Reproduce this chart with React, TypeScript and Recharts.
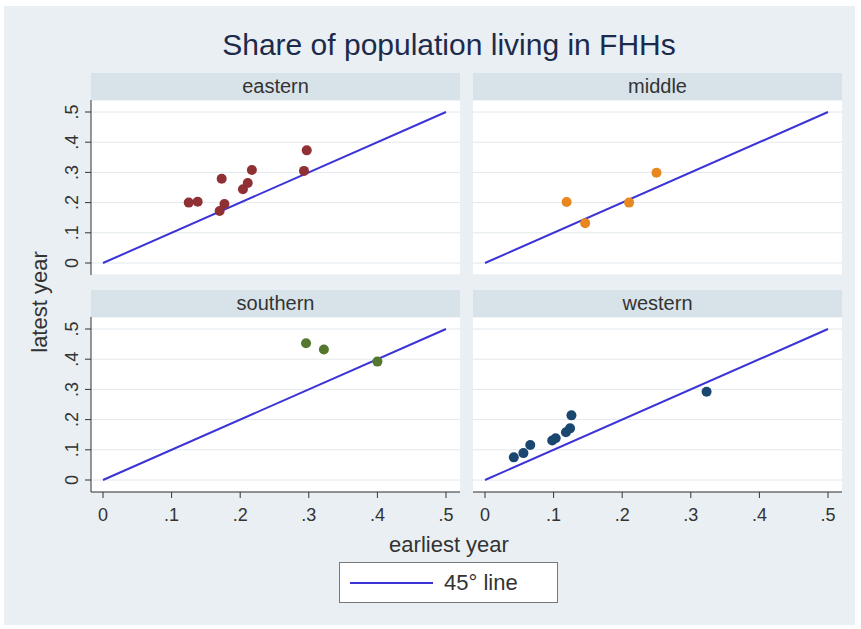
import { CartesianGrid, Scatter, ScatterChart, XAxis, YAxis } from "recharts"

// earliest year (x) / latest year (y) share of population in FHHs
const easternEarliest = [0.125, 0.138, 0.173, 0.177, 0.17, 0.204, 0.211, 0.217, 0.293, 0.297]
const easternLatest = [0.2, 0.203, 0.279, 0.195, 0.172, 0.244, 0.265, 0.308, 0.305, 0.373]

const middleEarliest = [0.119, 0.146, 0.21, 0.25]
const middleLatest = [0.202, 0.132, 0.2, 0.299]

const southernEarliest = [0.296, 0.322, 0.4]
const southernLatest = [0.453, 0.432, 0.392]

const westernEarliest = [0.042, 0.056, 0.066, 0.098, 0.103, 0.118, 0.124, 0.126, 0.323]
const westernLatest = [0.075, 0.089, 0.116, 0.131, 0.138, 0.158, 0.171, 0.214, 0.292]

const ticks = [0, 0.1, 0.2, 0.3, 0.4, 0.5]
const tickLabels = ["0", ".1", ".2", ".3", ".4", ".5"]
const diagonal = [
  { x: 0, y: 0 },
  { x: 0.5, y: 0.5 },
]

const FONT = '"Liberation Sans", Arial, sans-serif'
const LINE = "#3b33d6"
const INK = "#333"

const zip = (xs: number[], ys: number[]) => xs.map((x, i) => ({ x, y: ys[i] }))
const fmt = (v: number) => tickLabels[ticks.findIndex((t) => Math.abs(t - v) < 1e-9)] ?? String(v)

const PLOT_W = 369
const PLOT_H = 175
const Y_W = 40

const YTick = (props: any) => {
  const cx = Y_W - 19
  const { y, payload } = props
  return (
    <text
      x={cx}
      y={y}
      transform={`rotate(-90 ${cx} ${y})`}
      textAnchor="middle"
      dominantBaseline="central"
      fontSize={18}
      fill={INK}
      fontFamily={FONT}
    >
      {fmt(payload.value)}
    </text>
  )
}

type PanelProps = {
  title: string
  points: { x: number; y: number }[]
  color: string
  px: number
  py: number
  showX: boolean
  showY: boolean
}

const Panel = ({ title, points, color, px, py, showX, showY }: PanelProps) => {
  const yw = showY ? Y_W : 0
  const h = PLOT_H + (showX ? 40 : 0)
  return (
    <>
      <div
        style={{
          position: "absolute",
          left: px,
          top: py - 27,
          width: PLOT_W,
          height: 27,
          background: "#d8e3e9",
          textAlign: "center",
          lineHeight: "27px",
          fontSize: 20,
          color: INK,
          fontFamily: FONT,
        }}
      >
        {title}
      </div>
      <div style={{ position: "absolute", left: px - yw, top: py }}>
        <ScatterChart width={PLOT_W + yw} height={h} margin={{ top: 0, right: 0, bottom: 0, left: 0 }}>
          <CartesianGrid vertical={false} stroke="#e2e8ec" fill="#fff" />
          <XAxis
            type="number"
            dataKey="x"
            domain={[0, 0.5]}
            ticks={ticks}
            padding={{ left: 12, right: 14 }}
            hide={!showX}
            height={40}
            tickSize={6}
            tickMargin={10}
            axisLine={{ stroke: INK }}
            tickLine={{ stroke: INK }}
            tickFormatter={fmt}
            tick={{ fontSize: 18, fill: INK, fontFamily: FONT }}
          />
          <YAxis
            type="number"
            dataKey="y"
            domain={[0, 0.5]}
            ticks={ticks}
            padding={{ top: 12, bottom: 12 }}
            hide={!showY}
            width={Y_W}
            tickSize={6}
            axisLine={{ stroke: INK }}
            tickLine={{ stroke: INK }}
            tick={<YTick />}
          />
          <Scatter
            data={diagonal}
            line={{ stroke: LINE, strokeWidth: 2 }}
            shape={() => <g />}
            isAnimationActive={false}
          />
          <Scatter
            data={points}
            fill={color}
            shape={(p: any) => <circle cx={p.cx} cy={p.cy} r={5} fill={color} />}
            isAnimationActive={false}
          />
        </ScatterChart>
      </div>
    </>
  )
}

export default function App() {
  return (
    <div style={{ position: "absolute", left: 0, top: 0, width: 861, height: 629, background: "#fff", fontFamily: FONT }}>
      <div style={{ position: "absolute", left: 4, top: 6, width: 851, height: 619, background: "#e9eff2" }} />
      <div
        style={{
          position: "absolute",
          left: 149,
          top: 28,
          width: 600,
          textAlign: "center",
          fontSize: 30,
          lineHeight: "34px",
          color: "#1c2b4b",
        }}
      >
        Share of population living in FHHs
      </div>

      <Panel title="eastern" points={zip(easternEarliest, easternLatest)} color="#8f3035" px={91} py={100} showX={false} showY />
      <Panel title="middle" points={zip(middleEarliest, middleLatest)} color="#e8871e" px={473} py={100} showX={false} showY={false} />
      <Panel title="southern" points={zip(southernEarliest, southernLatest)} color="#52772d" px={91} py={317} showX showY />
      <Panel title="western" points={zip(westernEarliest, westernLatest)} color="#1a476f" px={473} py={317} showX showY={false} />

      <div
        style={{
          position: "absolute",
          left: 40,
          top: 302,
          transform: "translate(-50%, -50%) rotate(-90deg)",
          whiteSpace: "nowrap",
          fontSize: 22,
          color: INK,
        }}
      >
        latest year
      </div>
      <div
        style={{
          position: "absolute",
          left: 349,
          top: 532,
          width: 200,
          textAlign: "center",
          fontSize: 22,
          lineHeight: "26px",
          color: INK,
        }}
      >
        earliest year
      </div>

      <div
        style={{
          position: "absolute",
          left: 339,
          top: 562,
          width: 217,
          height: 39,
          border: "1px solid #777",
          background: "#fff",
        }}
      >
        <div style={{ position: "absolute", left: 10, top: 19, width: 83, height: 2, background: LINE }} />
        <div style={{ position: "absolute", left: 104, top: 0, lineHeight: "39px", fontSize: 22, color: INK }}>45° line</div>
      </div>
    </div>
  )
}
